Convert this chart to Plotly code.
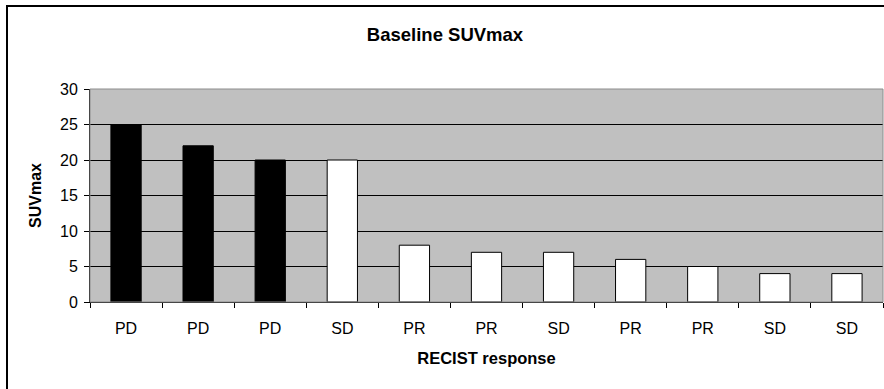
import plotly.graph_objects as go

categories = ["PD", "PD", "PD", "SD", "PR", "PR", "SD", "PR", "PR", "SD", "SD"]
suvmax = [25, 22, 20, 20, 8, 7, 7, 6, 5, 4, 4]
bar_colors = ["black", "black", "black", "white", "white", "white", "white", "white", "white", "white", "white"]
y_ticks = [0, 5, 10, 15, 20, 25, 30]

positions = list(range(len(categories)))

fig = go.Figure(
    go.Bar(
        x=positions,
        y=suvmax,
        marker=dict(color=bar_colors, line=dict(color="black", width=1)),
        width=0.42,
        hoverinfo="y",
    )
)

W, H = 884, 389
L, R, T, B = 90, 1, 89, 87
pw, ph = W - L - R, H - T - B

fig.update_layout(
    width=W,
    height=H,
    margin=dict(l=L, r=R, t=T, b=B, autoexpand=False),
    paper_bgcolor="white",
    plot_bgcolor="#C0C0C0",
    font=dict(family="Liberation Sans, Arial, sans-serif", size=16, color="black"),
    showlegend=False,
    title=dict(
        text="<b>Baseline SUVmax</b>",
        x=445 / W,
        xref="container",
        xanchor="center",
        y=(H - 35) / H,
        yref="container",
        yanchor="middle",
        font=dict(size=18.5),
    ),
    xaxis=dict(
        range=[-0.5, len(categories) - 0.5],
        tickvals=positions,
        ticktext=categories,
        ticks="",
        ticklabelstandoff=12,
        showline=True,
        linecolor="black",
        linewidth=1,
        showgrid=False,
        zeroline=False,
        tickfont=dict(size=16),
        minor=dict(tick0=-0.5, dtick=1, ticks="outside", ticklen=5, tickcolor="black", tickwidth=1, showgrid=False),
        title=dict(text="<b>RECIST response</b>", font=dict(size=16.5), standoff=16),
        automargin=False,
        fixedrange=True,
    ),
    yaxis=dict(
        range=[0, 30],
        tickvals=y_ticks,
        ticks="outside",
        ticklen=5,
        tickcolor="black",
        ticklabelstandoff=3,
        showline=True,
        linecolor="black",
        linewidth=1,
        showgrid=True,
        gridcolor="black",
        gridwidth=1,
        zeroline=False,
        tickfont=dict(size=16),
        title=dict(text="<b>SUVmax</b>", font=dict(size=16), standoff=14),
        automargin=False,
        fixedrange=True,
    ),
    shapes=[
        dict(
            type="rect", xref="paper", yref="paper",
            x0=0, x1=1, y0=0, y1=1,
            line=dict(color="#8c8c8c", width=1), fillcolor="rgba(0,0,0,0)",
            layer="above",
        ),
        dict(
            type="rect", xref="paper", yref="paper",
            x0=(7 - L) / pw, x1=(W + 20 - L) / pw,
            y0=-(B + 20) / ph, y1=1 + (T - 6) / ph,
            line=dict(color="black", width=2), fillcolor="rgba(0,0,0,0)",
            layer="above",
        ),
    ],
)

fig.write_html("out.html", config={"displayModeBar": False})
